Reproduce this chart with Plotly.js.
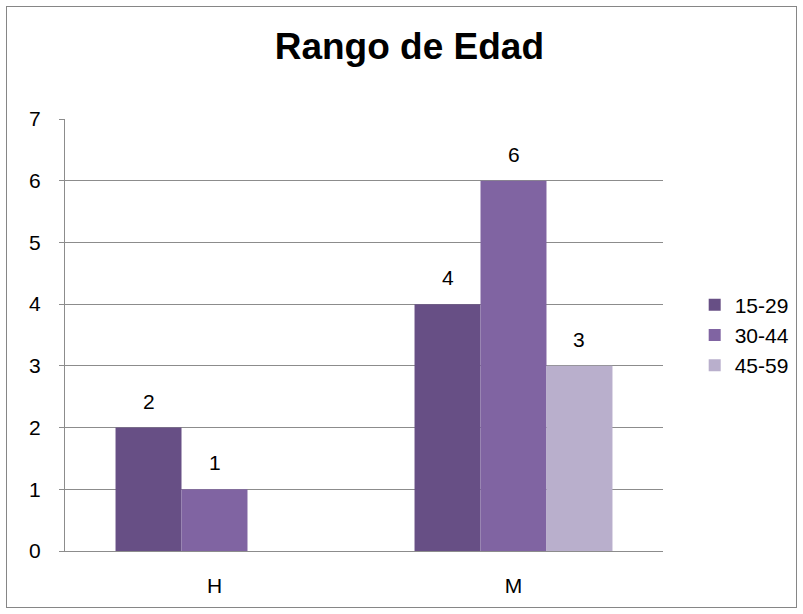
<!DOCTYPE html>
<html>
<head>
<meta charset="utf-8">
<script src="https://cdn.plot.ly/plotly-3.0.1.min.js"></script>
<style>
  body { margin: 0; background: #fff; }
  #chart { position: absolute; left: 6px; top: 6px; width: 789px; height: 600px; border: 1px solid #868686; }
</style>
</head>
<body>
<div id="chart"></div>
<script>
var categories = ['H', 'M'];
var ageGroups = ['15-29', '30-44', '45-59'];
var values15 = [2, 4];
var values30 = [1, 6];
var values45 = [null, 3];
var colors = ['#674f85', '#8064a2', '#b9afcc'];

var gap = 0.338;
var series = [values15, values30, values45];

var data = series.map(function (vals, i) {
  return {
    type: 'bar',
    name: ageGroups[i],
    legendgroup: ageGroups[i],
    x: categories,
    y: vals,
    marker: { color: colors[i] }
  };
});

// value labels above the bars, placed at each bar's centre on the category axis
var annotations = [];
series.forEach(function (vals, i) {
  vals.forEach(function (v, j) {
    if (v == null) return;
    annotations.push({
      x: j + (i - 1) * (1 - gap) / 3,
      y: v,
      xref: 'x', yref: 'y',
      text: String(v),
      showarrow: false,
      yanchor: 'bottom',
      yshift: 13,
      font: { size: 21, color: '#000' }
    });
  });
});

var layout = {
  width: 789,
  height: 600,
  margin: { l: 58, r: 133, t: 112, b: 56, autoexpand: false },
  font: { family: 'Liberation Sans, Arial, sans-serif', size: 21, color: '#000' },
  title: {
    text: '<b>Rango de Edad</b>',
    font: { size: 37, family: 'Liberation Sans, Arial, sans-serif' },
    x: 0.51, xanchor: 'center',
    y: 0.935, yanchor: 'middle'
  },
  barmode: 'group',
  bargap: gap,
  bargroupgap: 0,
  showlegend: true,
  legend: {
    x: 1.053, xanchor: 'left',
    y: 0.5, yanchor: 'middle',
    font: { size: 21 },
    traceorder: 'grouped',
    tracegroupgap: 0,
    itemwidth: 30
  },
  annotations: annotations,
  xaxis: {
    showgrid: false,
    showline: true,
    linecolor: '#8c8c8c',
    ticks: '',
    ticklabelstandoff: 16,
    tickfont: { size: 21 }
  },
  yaxis: {
    range: [0, 7],
    dtick: 1,
    showgrid: true,
    gridcolor: '#8c8c8c',
    showline: true,
    linecolor: '#8c8c8c',
    ticks: 'outside',
    ticklen: 5,
    tickcolor: '#8c8c8c',
    ticklabelstandoff: 14,
    zeroline: false,
    tickfont: { size: 21 }
  },
  paper_bgcolor: '#fff',
  plot_bgcolor: '#fff'
};

Plotly.newPlot('chart', data, layout, { displayModeBar: false });
</script>
</body>
</html>
